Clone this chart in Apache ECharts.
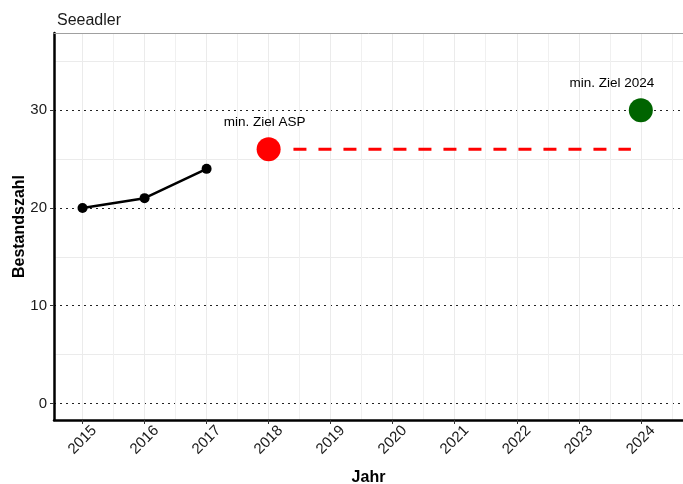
<!DOCTYPE html>
<html>
<head>
<meta charset="utf-8">
<script src="https://cdn.jsdelivr.net/npm/echarts@6/dist/echarts.min.js"></script>
<style>
  html, body { margin: 0; padding: 0; background: #fff; }
  #chart { width: 683px; height: 484px; }
</style>
</head>
<body>
<div id="chart"></div>
<script>
// Bestandsdaten Seeadler
const jahre = [2015, 2016, 2017]
const bestand = [20, 21, 24]

// Zielwerte
const zielAspJahr = 2018
const zielAspWert = 26
const ziel2024Jahr = 2024
const ziel2024Wert = 30
const zielLinieVon = 2018.4
const zielLinieBis = 2023.84

// Achsen
const xTicks = [2015, 2016, 2017, 2018, 2019, 2020, 2021, 2022, 2023, 2024]
const xMinor = [2014.5, 2015.5, 2016.5, 2017.5, 2018.5, 2019.5, 2020.5, 2021.5, 2022.5, 2023.5, 2024.5]
const yTicks = [0, 10, 20, 30]
const yMinor = [5, 15, 25, 35]

const font = '"Liberation Sans", Arial, sans-serif'
const xMin = 2014.54, xMax = 2024.68
const yMin = -1.7, yMax = 37.9

const chart = echarts.init(document.getElementById('chart'))

chart.setOption({
  animation: false,
  textStyle: { fontFamily: font },
  title: {
    text: 'Seeadler',
    left: 52,
    top: 8,
    textStyle: { fontFamily: font, fontSize: 16, fontWeight: 'normal', color: '#1a1a1a' }
  },
  grid: { left: 54, right: 0, top: 33, bottom: 64, outerBoundsMode: 'none', containLabel: false },
  xAxis: [
    {
      type: 'value',
      min: xMin,
      max: xMax,
      name: 'Jahr',
      nameLocation: 'middle',
      nameGap: 50,
      nameMoveOverlap: false,
      nameTextStyle: { fontFamily: font, fontSize: 16, fontWeight: 'bold', color: '#000' },
      axisLine: { onZero: false, lineStyle: { color: '#000', width: 2.5 } },
      axisTick: { customValues: xTicks, length: 4, lineStyle: { color: '#333' } },
      axisLabel: {
        customValues: xTicks,
        rotate: 45,
        align: 'center',
        verticalAlign: 'middle',
        margin: 20,
        fontSize: 15,
        color: '#1a1a1a',
        formatter: v => String(v)
      },
      splitLine: { show: true, lineStyle: { color: '#ebebeb', width: 1 } }
    },
    {
      type: 'value',
      position: 'top',
      min: xMin,
      max: xMax,
      axisLine: { show: true, onZero: false, lineStyle: { color: '#a0a0a0', width: 1 } },
      axisTick: { show: false, customValues: xMinor },
      axisLabel: { show: false, customValues: xMinor },
      splitLine: { show: true, lineStyle: { color: '#f0f0f0', width: 1 } }
    }
  ],
  yAxis: [
    {
      type: 'value',
      min: yMin,
      max: yMax,
      name: 'Bestandszahl',
      nameLocation: 'middle',
      nameGap: 26,
      nameRotate: 90,
      nameMoveOverlap: false,
      nameTextStyle: { fontFamily: font, fontSize: 16, fontWeight: 'bold', color: '#000' },
      axisLine: { show: true, onZero: false, lineStyle: { color: '#000', width: 2.5 } },
      axisTick: { show: true, customValues: yTicks, length: 4, lineStyle: { color: '#333' } },
      axisLabel: { customValues: yTicks, margin: 7, fontSize: 15, color: '#1a1a1a' },
      splitLine: { show: true, lineStyle: { color: '#222', width: 1.2, type: [2, 4] } }
    },
    {
      type: 'value',
      position: 'right',
      min: yMin,
      max: yMax,
      axisLine: { show: false },
      axisTick: { show: false, customValues: yMinor },
      axisLabel: { show: false, customValues: yMinor },
      splitLine: { show: true, lineStyle: { color: '#ebebeb', width: 1 } }
    }
  ],
  series: [
    {
      name: 'Bestand',
      type: 'line',
      data: jahre.map((j, i) => [j, bestand[i]]),
      symbol: 'circle',
      symbolSize: 10,
      itemStyle: { color: '#000' },
      lineStyle: { color: '#000', width: 2.5 },
      z: 5
    },
    {
      name: 'Ziellinie',
      type: 'line',
      data: [[zielLinieVon, zielAspWert], [zielLinieBis, zielAspWert]],
      symbol: 'none',
      lineStyle: { color: '#ff0000', width: 3, type: [13, 12], cap: 'butt' },
      z: 4
    },
    {
      name: 'min. Ziel ASP',
      type: 'scatter',
      data: [[zielAspJahr, zielAspWert]],
      symbolSize: 24,
      itemStyle: { color: '#ff0000', opacity: 1 },
      label: {
        show: true,
        position: 'inside',
        offset: [-4, -27],
        formatter: 'min. Ziel ASP',
        fontSize: 13.5,
        color: '#000'
      },
      z: 6
    },
    {
      name: 'min. Ziel 2024',
      type: 'scatter',
      data: [[ziel2024Jahr, ziel2024Wert]],
      symbolSize: 24,
      itemStyle: { color: '#006400', opacity: 1 },
      label: {
        show: true,
        position: 'inside',
        offset: [-29, -27],
        formatter: 'min. Ziel 2024',
        fontSize: 13.5,
        color: '#000'
      },
      z: 6
    }
  ]
})
</script>
</body>
</html>
